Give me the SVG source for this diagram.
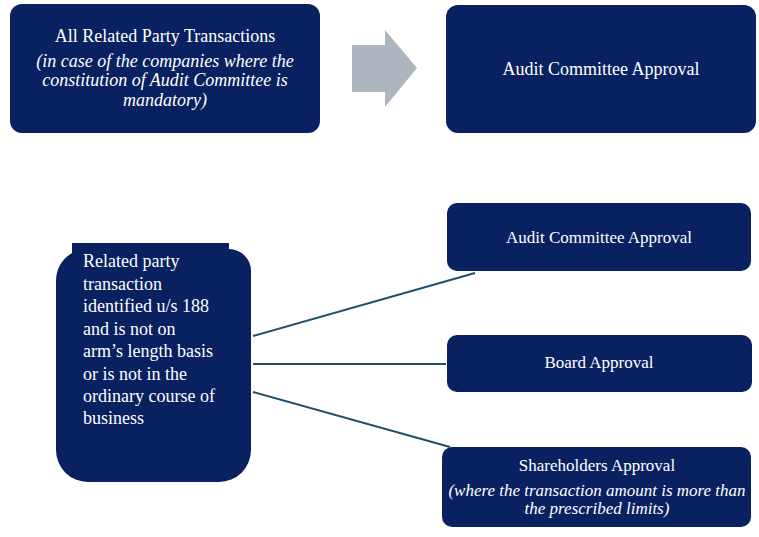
<svg xmlns="http://www.w3.org/2000/svg" width="759" height="537" viewBox="0 0 759 537">
<style>
.box{fill:#0A2161;}
.t{fill:#ffffff;font-family:"Liberation Serif","Times New Roman",serif;text-anchor:middle;}
.tl{fill:#ffffff;font-family:"Liberation Serif","Times New Roman",serif;font-size:18px;}
.i{font-style:italic;}
.c{stroke:#1F4E6E;stroke-width:2;fill:none;}
</style>
<rect width="759" height="537" fill="#ffffff"/>
<g id="node-all-rpt">
<rect class="box" x="10" y="4" width="310" height="129" rx="12"/>
<text class="t" x="165" y="42" font-size="18">All Related Party Transactions</text>
<text class="t i" x="165" y="67" font-size="18">(in case of the companies where the</text>
<text class="t i" x="165" y="86" font-size="18">constitution of Audit Committee is</text>
<text class="t i" x="165" y="106" font-size="18">mandatory)</text>
</g>
<g id="node-arrow">
<polygon points="352,45 385,45 385,30 417,68 385,107 385,92 352,92" fill="#ADB5BE"/>
</g>
<g id="node-audit-top">
<rect class="box" x="446" y="5" width="310" height="128" rx="12"/>
<text class="t" x="601" y="75" font-size="18">Audit Committee Approval</text>
</g>
<g id="node-rpt-188">
<path class="box" d="M72,243 H229 V249 A22,22 0 0 1 251,271 V450 A32,32 0 0 1 219,482 H88 A32,32 0 0 1 56,450 V281 A32,32 0 0 1 72,253 Z"/>
<text class="tl" x="83" y="267">Related party</text>
<text class="tl" x="83" y="290">transaction</text>
<text class="tl" x="83" y="312">identified u/s 188</text>
<text class="tl" x="83" y="335">and is not on</text>
<text class="tl" x="83" y="357">arm’s length basis</text>
<text class="tl" x="83" y="380">or is not in the</text>
<text class="tl" x="83" y="402">ordinary course of</text>
<text class="tl" x="83" y="424">business</text>
</g>
<g id="connectors">
<line class="c" x1="253" y1="336" x2="475" y2="273"/>
<line class="c" x1="253" y1="364" x2="446" y2="364"/>
<line class="c" x1="253" y1="392" x2="450" y2="447"/>
</g>
<g id="node-audit">
<rect class="box" x="447" y="203" width="304" height="68" rx="10"/>
<text class="t" x="599" y="243" font-size="17">Audit Committee Approval</text>
</g>
<g id="node-board">
<rect class="box" x="447" y="335" width="305" height="57" rx="10"/>
<text class="t" x="599" y="368" font-size="17">Board Approval</text>
</g>
<g id="node-shareholders">
<rect class="box" x="442" y="447" width="309" height="80" rx="10"/>
<text class="t" x="597" y="471" font-size="17">Shareholders Approval</text>
<text class="t i" x="597" y="496" font-size="17">(where the transaction amount is more than</text>
<text class="t i" x="597" y="514" font-size="17">the prescribed limits)</text>
</g>
</svg>
